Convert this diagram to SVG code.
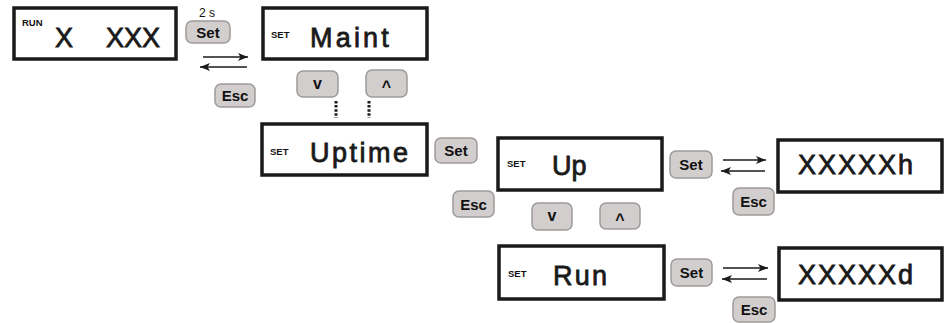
<svg xmlns="http://www.w3.org/2000/svg" width="944" height="323" viewBox="0 0 944 323">
<defs>
<marker id="ah" viewBox="0 0 10 8" refX="10" refY="4" markerWidth="10" markerHeight="8" markerUnits="userSpaceOnUse" orient="auto-start-reverse">
<path d="M0,0 L10,4 L0,8 L2.5,4 Z" fill="#1a1a1a"/>
</marker>
</defs>
<style>
.disp{fill:#fff;stroke:#1a1a1a;stroke-width:3.5}
.btn{fill:#d2cece;stroke:#9e9a9a;stroke-width:1.5}
.bt{font-family:"Liberation Sans",Arial,sans-serif;font-weight:bold;font-size:15px;fill:#111;text-anchor:middle}
.arr{font-family:"Liberation Sans",Arial,sans-serif;font-weight:bold;font-size:16px;fill:#111;text-anchor:middle}
.set{font-family:"Liberation Sans",Arial,sans-serif;font-weight:bold;font-size:9.5px;fill:#111}
.big{font-family:"Liberation Sans",Arial,sans-serif;font-size:27px;fill:#1a1a1a;stroke:#1a1a1a;stroke-width:0.8}
.ln{stroke:#1a1a1a;stroke-width:1.3;fill:none}
.dot{stroke:#1a1a1a;stroke-width:3;stroke-dasharray:2.5 1.6;fill:none}
</style>

<g id="disp-run">
<rect class="disp" x="14" y="8" width="162" height="51"/>
<text class="set" x="22" y="26">RUN</text>
<text class="big" x="55" y="47">X</text>
<text class="big" x="106" y="47" font-size="26">XXX</text>
</g>

<g id="btn-set1">
<text x="207" y="17" font-family="Liberation Sans,Arial,sans-serif" font-size="12" text-anchor="middle" fill="#111">2 s</text>
<rect class="btn" x="186" y="21" width="44" height="22" rx="6"/>
<text class="bt" x="208" y="37.5">Set</text>
</g>
<g id="btn-esc1">
<rect class="btn" x="215" y="84" width="40" height="23" rx="6"/>
<text class="bt" x="235" y="101">Esc</text>
</g>

<g id="disp-maint">
<rect class="disp" x="263" y="8" width="164" height="51"/>
<text class="set" x="271" y="38">SET</text>
<text class="big" x="310" y="47" font-size="28" letter-spacing="3.2">Maint</text>
</g>

<g id="btn-down1">
<rect class="btn" x="297" y="71" width="41" height="26" rx="6"/>
<text class="arr" x="317.5" y="89">v</text>
</g>
<g id="btn-up1">
<rect class="btn" x="366" y="70" width="41" height="27" rx="6"/>
<text class="arr" x="386.5" y="92">^</text>
</g>

<g id="disp-uptime">
<rect class="disp" x="262" y="124" width="165" height="51"/>
<text class="set" x="270" y="155">SET</text>
<text class="big" x="310" y="162" font-size="27" letter-spacing="2.5">Uptime</text>
</g>

<g id="btn-set2">
<rect class="btn" x="435" y="138" width="42" height="25" rx="6"/>
<text class="bt" x="456" y="156">Set</text>
</g>
<g id="btn-esc2">
<rect class="btn" x="453" y="191" width="41" height="26" rx="6"/>
<text class="bt" x="473.5" y="209.5">Esc</text>
</g>

<g id="disp-up">
<rect class="disp" x="498" y="138" width="164" height="52"/>
<text class="set" x="507" y="167">SET</text>
<text class="big" x="552" y="175" font-size="27.5">Up</text>
</g>

<g id="btn-down2">
<rect class="btn" x="532" y="203" width="40" height="27" rx="6"/>
<text class="arr" x="552" y="221">v</text>
</g>
<g id="btn-up2">
<rect class="btn" x="600" y="203" width="40" height="26" rx="6"/>
<text class="arr" x="620" y="224.5">^</text>
</g>

<g id="btn-set3">
<rect class="btn" x="670" y="151" width="42" height="27" rx="6"/>
<text class="bt" x="691" y="170">Set</text>
</g>
<g id="btn-esc3">
<rect class="btn" x="733" y="188" width="41" height="27" rx="6"/>
<text class="bt" x="753.5" y="207">Esc</text>
</g>

<g id="disp-h">
<rect class="disp" x="778" y="140" width="164" height="52"/>
<text class="big" x="798" y="173.5" font-size="25" letter-spacing="2">XXXXXh</text>
</g>

<g id="disp-run2">
<rect class="disp" x="499" y="246" width="165" height="53"/>
<text class="set" x="508" y="277">SET</text>
<text class="big" x="553" y="285" font-size="27.5" letter-spacing="2.3">Run</text>
</g>

<g id="btn-set4">
<rect class="btn" x="671" y="259" width="41" height="27" rx="6"/>
<text class="bt" x="691.5" y="278">Set</text>
</g>
<g id="btn-esc4">
<rect class="btn" x="733" y="297" width="42" height="25" rx="6"/>
<text class="bt" x="754" y="315">Esc</text>
</g>

<g id="disp-d">
<rect class="disp" x="779" y="248" width="163" height="52"/>
<text class="big" x="798" y="283.5" font-size="25" letter-spacing="2">XXXXXd</text>
</g>

<g id="connectors">
<line class="ln" x1="203" y1="57" x2="248" y2="57" marker-end="url(#ah)"/>
<line class="ln" x1="200" y1="67" x2="247" y2="67" marker-start="url(#ah)"/>
<line class="dot" x1="336" y1="101" x2="336" y2="118"/>
<line class="dot" x1="369" y1="101" x2="369" y2="118"/>
<line class="ln" x1="723" y1="160" x2="766" y2="160" marker-end="url(#ah)"/>
<line class="ln" x1="721" y1="171" x2="765" y2="171" marker-start="url(#ah)"/>
<line class="ln" x1="723" y1="268" x2="768" y2="268" marker-end="url(#ah)"/>
<line class="ln" x1="722" y1="279" x2="767" y2="279" marker-start="url(#ah)"/>
</g>
</svg>
